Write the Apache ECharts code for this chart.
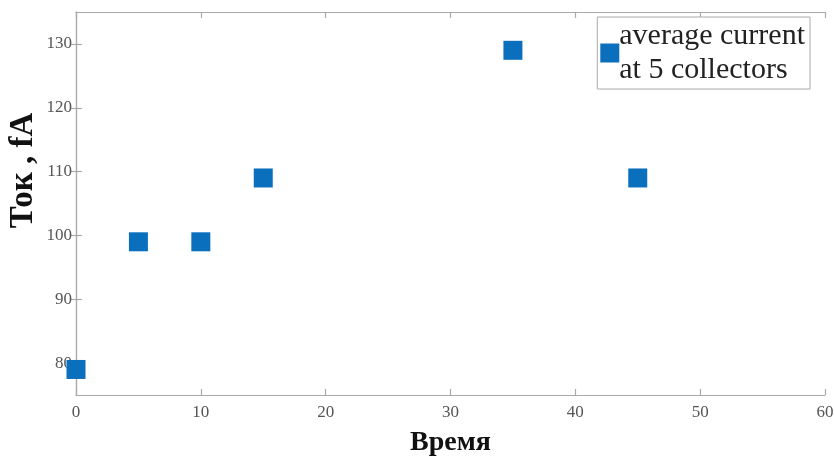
<!DOCTYPE html>
<html><head><meta charset="utf-8">
<script src="https://cdn.jsdelivr.net/npm/echarts@6/dist/echarts.min.js"></script>
<style>html,body{margin:0;padding:0;background:#fff}#c{width:834px;height:457px}</style>
</head><body><div id="c"></div>
<script>
const timeValues = [0, 5, 10, 15, 35, 45];
const currentValues = [79, 99, 99, 109, 129, 109];
const seriesName = 'average current\nat 5 collectors';
const xTicks = [0, 10, 20, 30, 40, 50, 60];
const yTicks = [80, 90, 100, 110, 120, 130];

const serif = '"Liberation Serif", "DejaVu Serif", serif';
const axisLineStyle = {color: '#aaaaaa', width: 1.2};
const tickLabel = {fontFamily: serif, fontSize: 17, color: '#555'};

const chart = echarts.init(document.getElementById('c'));
chart.setOption({
  animation: false,
  grid: {left: 76, right: 9, top: 12, bottom: 62, outerBoundsMode: 'none', containLabel: false},
  legend: {
    data: [seriesName], right: 24, top: 17, orient: 'vertical',
    itemWidth: 19, itemHeight: 19, itemGap: 0,
    borderColor: '#aaaaaa', borderWidth: 1, padding: [2, 5, 2, 3],
    textStyle: {fontFamily: serif, fontSize: 30, color: '#222', lineHeight: 34, padding: [0,0,0,-5]},
    backgroundColor: '#fff'
  },
  xAxis: [{
    type: 'value', min: 0, max: 60, interval: 10,
    name: 'Время', nameLocation: 'middle', nameGap: 34,
    nameTextStyle: {fontFamily: serif, fontSize: 28, fontWeight: 'bold', color: '#111'},
    axisLine: {show: true, lineStyle: axisLineStyle},
    axisTick: {show: true, inside: true, length: 6, lineStyle: axisLineStyle, customValues: xTicks},
    axisLabel: Object.assign({margin: 9, customValues: xTicks}, tickLabel),
    splitLine: {show: false}
  }, {
    type: 'value', min: 0, max: 60, interval: 10, position: 'top',
    axisLine: {show: true, lineStyle: axisLineStyle},
    axisTick: {show: true, inside: true, length: 6, lineStyle: axisLineStyle, customValues: xTicks},
    axisLabel: {show: false}, splitLine: {show: false}
  }],
  yAxis: [{
    type: 'value', min: 75, max: 135,
    name: 'Ток , fA', nameLocation: 'middle', nameGap: 36, nameMoveOverlap: false,
    nameTextStyle: {fontFamily: serif, fontSize: 33, fontWeight: 'bold', color: '#111', padding: [0, 0, 0, 66]},
    axisLine: {show: true, lineStyle: axisLineStyle},
    axisTick: {show: true, inside: true, length: 6, lineStyle: axisLineStyle, customValues: yTicks},
    axisLabel: Object.assign({margin: 4, customValues: yTicks}, tickLabel),
    splitLine: {show: false}
  }, {
    type: 'value', min: 75, max: 135, position: 'right',
    axisLine: {show: true, lineStyle: axisLineStyle},
    axisTick: {show: true, inside: true, length: 6, lineStyle: axisLineStyle, customValues: yTicks},
    axisLabel: {show: false}, splitLine: {show: false}
  }],
  series: [{
    name: seriesName, type: 'scatter', symbol: 'rect', symbolSize: 19,
    itemStyle: {color: '#0a6fbd', opacity: 1},
    data: timeValues.map((t, i) => [t, currentValues[i]])
  }]
});
</script></body></html>
